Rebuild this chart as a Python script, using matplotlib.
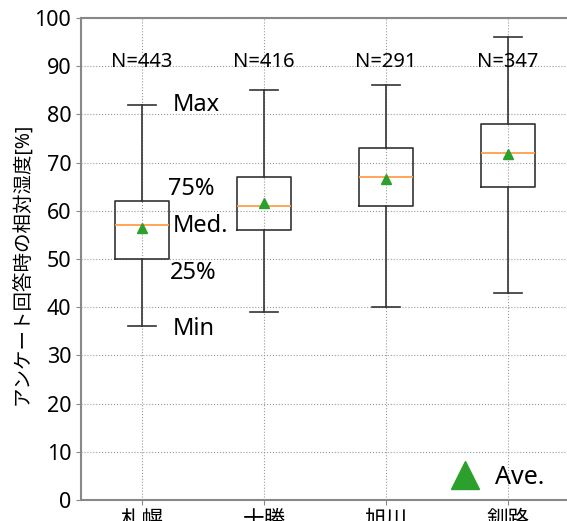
import matplotlib.pyplot as plt

plt.rcParams['font.family'] = ['Noto Sans', 'Noto Sans CJK JP']

# data
areas = ['札幌', '十勝', '旭川', '釧路']
n_counts = [443, 416, 291, 347]
mins = [36, 39, 40, 43]
q1s = [50, 56, 61, 65]
medians = [57, 61, 67, 72]
q3s = [62, 67, 73, 78]
maxs = [82, 85, 86, 96]
means = [56.5, 61.7, 66.5, 71.8]

stats = []
for i in range(len(areas)):
    stats.append({'label': areas[i], 'whislo': mins[i], 'q1': q1s[i], 'med': medians[i],
                  'q3': q3s[i], 'whishi': maxs[i], 'mean': means[i], 'fliers': []})

fig = plt.figure(figsize=(5.67, 5.21), dpi=100)
ax = fig.add_axes([81 / 567, 21 / 521, 488 / 567, 482 / 521])

ax.bxp(stats, showmeans=True, widths=0.45,
       boxprops=dict(color='#333333', linewidth=1.2),
       whiskerprops=dict(color='#333333', linewidth=1.2),
       capprops=dict(color='#333333', linewidth=1.2),
       medianprops=dict(color='#ff9f4a', linewidth=1.3),
       meanprops=dict(marker='^', markerfacecolor='#2ca02c', markeredgecolor='#2ca02c', markersize=7))

for i, n in enumerate(n_counts):
    ax.text(i + 1, 89.8, f'N={n}', ha='center', va='baseline', fontsize=14.5)

# explanation labels next to first box
ax.text(1.25, 82, 'Max', ha='left', va='center', fontsize=17)
ax.text(1.21, 64.5, '75%', ha='left', va='center', fontsize=17)
ax.text(1.25, 56.8, 'Med.', ha='left', va='center', fontsize=17)
ax.text(1.23, 47, '25%', ha='left', va='center', fontsize=17)
ax.text(1.25, 35.5, 'Min', ha='left', va='center', fontsize=17)

ax.plot([], [], '^', color='#2ca02c', markersize=20, label='Ave.')
ax.legend(loc='lower right', frameon=False, fontsize=18, handletextpad=0.2,
          bbox_to_anchor=(0.995, -0.025))

ax.set_ylim(0, 100)
ax.set_xlim(0.5, 4.5)
ax.set_yticks(range(0, 101, 10))
ax.tick_params(labelsize=15.5, color='#888888')
ax.set_ylabel('アンケート回答時の相対湿度[%]', fontsize=14)
ax.yaxis.set_label_coords(-0.098, 0.49)
ax.grid(True, linestyle=':', color='#999999', linewidth=0.8)
for s in ax.spines.values():
    s.set_color('#888888')
    s.set_linewidth(1.5)

fig.savefig('out.png', dpi=100)
